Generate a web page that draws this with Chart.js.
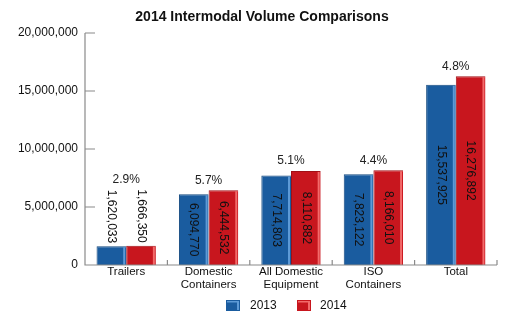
<!DOCTYPE html>
<html>
<head>
<meta charset="utf-8">
<script src="https://cdn.jsdelivr.net/npm/chart.js@4.4.1/dist/chart.umd.min.js"></script>
<style>
  html, body { margin: 0; padding: 0; background: #fff; }
  #wrap { width: 505px; height: 331px; }
</style>
</head>
<body>
<div id="wrap"><canvas id="c" width="505" height="331"></canvas></div>
<script>
'use strict';

// ── dados ───────────────────────────────────────────────────────────────────
const CATEGORIES = [['Trailers'], ['Domestic', 'Containers'], ['All Domestic', 'Equipment'], ['ISO', 'Containers'], ['Total']];
const VOL_2013   = [1620033, 6094770, 7714803, 7823122, 15537925];
const VOL_2014   = [1666350, 6444532, 8110882, 8166010, 16276892];
const PCT_CHANGE = ['2.9%', '5.7%', '5.1%', '4.4%', '4.8%'];
const SERIES     = ['2013', '2014'];
const Y_MAX      = 20000000;
const Y_STEP     = 5000000;

// ── paleta ──────────────────────────────────────────────────────────────────
const COLOR_BLUE    = '#1a5c9f';
const COLOR_BLUE_HI = '#5d9ad6';
const COLOR_RED     = '#c8161e';
const COLOR_RED_HI  = '#f36a6a';
const COLOR_AXIS    = '#8a8a8a';
const FONT = 'Liberation Sans, Arial, Helvetica, sans-serif';

function fmt(n) {
    return Number(n).toLocaleString('en-US');
}

// ── plugin: title, inward ticks, value labels, legend ───────────────────────
const decor = {
    id: 'decor',
    afterDatasetsDraw(chart) {
        const ctx = chart.ctx;
        const x = chart.scales.x, y = chart.scales.y;
        const area = chart.chartArea;
        ctx.save();

        // highlight strip on the right edge of each bar
        chart.data.datasets.forEach((ds, di) => {
            chart.getDatasetMeta(di).data.forEach(bar => {
                ctx.fillStyle = di === 0 ? COLOR_BLUE_HI : COLOR_RED_HI;
                ctx.fillRect(bar.x + bar.width / 2 - 3, bar.y + 1, 2, bar.base - bar.y - 1);
            });
        });

        // axes
        ctx.strokeStyle = COLOR_AXIS;
        ctx.lineWidth = 1.2;
        ctx.beginPath();
        ctx.moveTo(area.left, area.top);
        ctx.lineTo(area.left, area.bottom);
        ctx.lineTo(area.right, area.bottom);
        for (let v = Y_STEP; v <= Y_MAX; v += Y_STEP) {
            const py = y.getPixelForValue(v);
            ctx.moveTo(area.left, py);
            ctx.lineTo(area.left + 10, py);
        }
        for (let i = 0; i < CATEGORIES.length; i++) {
            const px = (x.getPixelForValue(i) + x.getPixelForValue(i + 1)) / 2;
            const ex = i === CATEGORIES.length - 1 ? area.right : px;
            ctx.moveTo(ex, area.bottom);
            ctx.lineTo(ex, area.bottom - 5);
        }
        ctx.stroke();

        // title
        ctx.fillStyle = '#111';
        ctx.font = 'bold 14px ' + FONT;
        ctx.textAlign = 'center';
        ctx.textBaseline = 'middle';
        ctx.fillText('2014 Intermodal Volume Comparisons', 262, 17);

        // rotated value labels
        ctx.font = '12px ' + FONT;
        const tops = [];
        chart.data.datasets.forEach((ds, di) => {
            chart.getDatasetMeta(di).data.forEach((bar, i) => {
                const txt = fmt(ds.data[i]);
                const w = ctx.measureText(txt).width;
                const h = bar.base - bar.y;
                let cy, top;
                if (h > w + 12) {
                    cy = (bar.y + bar.base) / 2;
                    top = bar.y;
                } else {
                    cy = bar.y - 3 - w / 2;
                    top = bar.y - 3 - w;
                }
                tops[i] = Math.min(tops[i] ?? Infinity, top);
                ctx.save();
                ctx.translate(bar.x, cy);
                ctx.rotate(Math.PI / 2);
                ctx.fillStyle = '#111';
                ctx.textAlign = 'center';
                ctx.textBaseline = 'middle';
                ctx.fillText(txt, 0, 0);
                ctx.restore();
            });
        });

        // % change labels
        ctx.fillStyle = '#222';
        ctx.textAlign = 'center';
        ctx.textBaseline = 'middle';
        PCT_CHANGE.forEach((p, i) => {
            ctx.fillText(p, x.getPixelForValue(i), tops[i] - 10);
        });

        // legend
        const items = [
            { label: SERIES[0], color: COLOR_BLUE, hi: COLOR_BLUE_HI, bx: 226, tx: 250 },
            { label: SERIES[1], color: COLOR_RED,  hi: COLOR_RED_HI,  bx: 297, tx: 320 },
        ];
        items.forEach(it => {
            ctx.fillStyle = it.color;
            ctx.fillRect(it.bx, 300, 14, 11);
            ctx.fillStyle = it.hi;
            ctx.fillRect(it.bx + 11, 301, 2, 9);
            ctx.fillRect(it.bx + 1, 301, 11, 1.5);
            ctx.fillStyle = '#111';
            ctx.textAlign = 'left';
            ctx.fillText(it.label, it.tx, 306);
        });

        ctx.restore();
    },
};

// ── chart ───────────────────────────────────────────────────────────────────
new Chart(document.getElementById('c'), {
    type: 'bar',
    data: {
        labels: CATEGORIES,
        datasets: [
            { label: SERIES[0], data: VOL_2013, backgroundColor: COLOR_BLUE, borderColor: '#14497f', borderWidth: { right: 0, left: 1, top: 1, bottom: 0 } },
            { label: SERIES[1], data: VOL_2014, backgroundColor: COLOR_RED,  borderColor: '#a01016', borderWidth: { right: 0, left: 1, top: 1, bottom: 0 } },
        ],
    },
    options: {
        responsive: false,
        animation: false,
        events: [],
        datasets: { bar: { categoryPercentage: 0.72, barPercentage: 1.0 } },
        layout: { padding: { left: 0, right: 8, top: 33, bottom: 0 } },
        plugins: {
            legend: { display: false },
            title: { display: false },
            tooltip: { enabled: false },
        },
        scales: {
            x: {
                grid: { display: false, drawTicks: false },
                border: { display: false },
                ticks: {
                    padding: 1,
                    color: '#111',
                    font: { family: FONT, size: 11.5, lineHeight: 1.1 },
                    maxRotation: 0,
                    autoSkip: false,
                },
                afterFit: s => { s.height = 66; },
            },
            y: {
                min: 0,
                max: Y_MAX,
                grid: { display: false, drawTicks: false },
                border: { display: false },
                ticks: {
                    stepSize: Y_STEP,
                    padding: 7,
                    color: '#111',
                    font: { family: FONT, size: 12 },
                    callback: v => fmt(v),
                },
                afterFit: s => { s.width = 85; },
            },
        },
    },
    plugins: [decor],
});
</script>
</body>
</html>
